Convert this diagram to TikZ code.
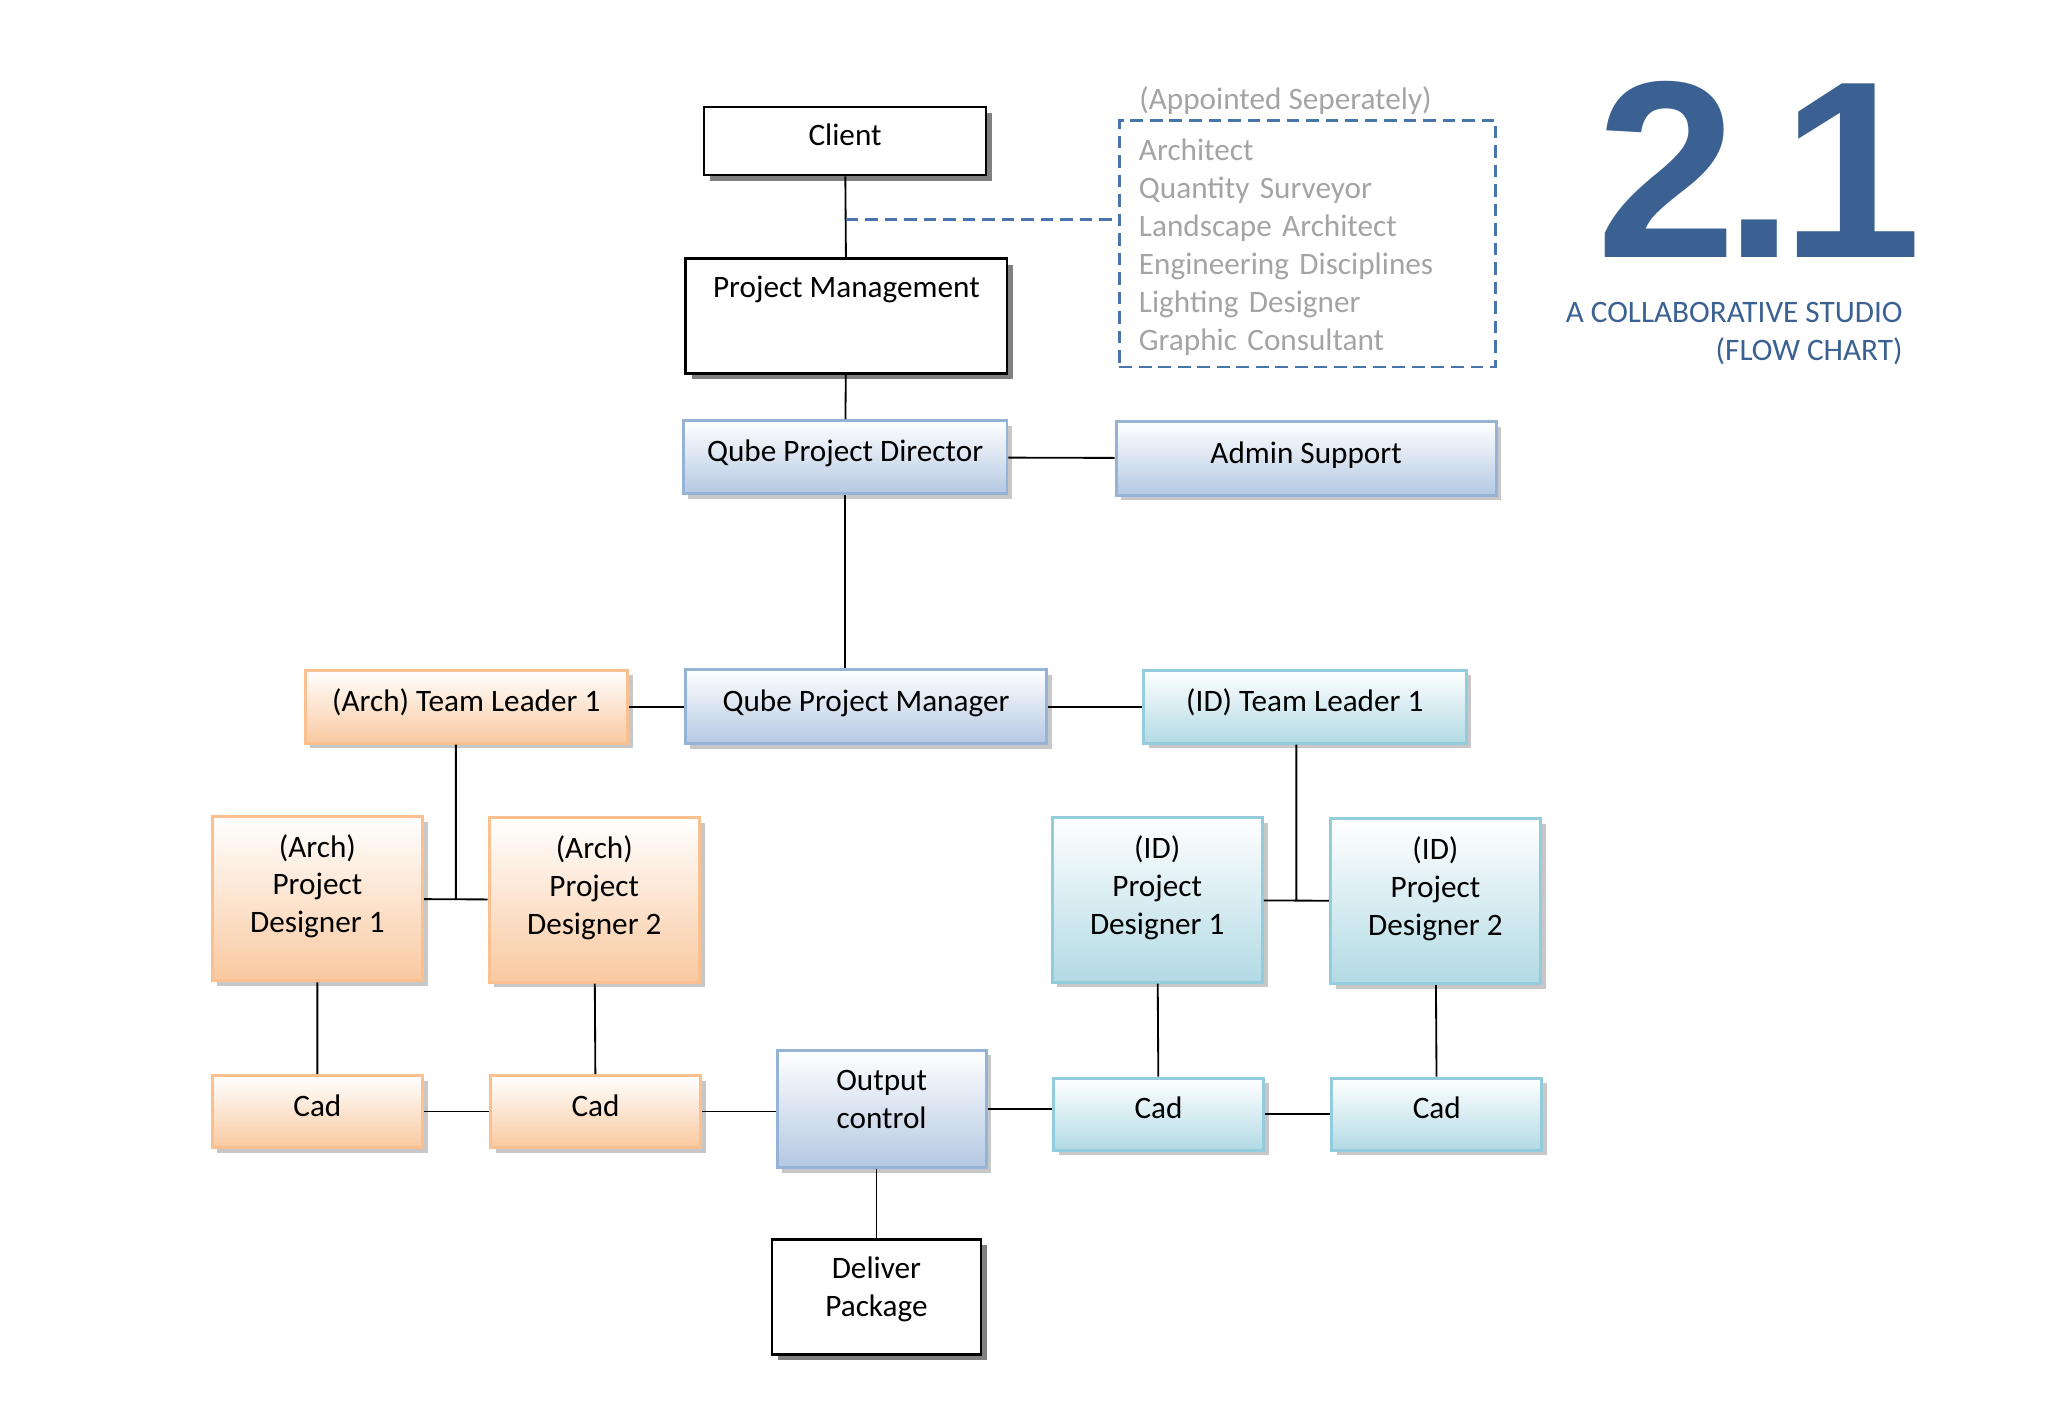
\documentclass[tikz,border=0pt]{standalone}
\usepackage{fontspec}
\setmainfont{Carlito}
\newfontfamily\numfont{Liberation Sans}[LetterSpace=-5]
\usetikzlibrary{shadows,calc}
\definecolor{qubeline}{HTML}{95B3D7}
\definecolor{qubebot}{HTML}{B4C8E2}
\definecolor{archline}{HTML}{FAC090}
\definecolor{archbot}{HTML}{F9C9A0}
\definecolor{idline}{HTML}{93CDDD}
\definecolor{idbot}{HTML}{B2DAE4}
\definecolor{dashblue}{HTML}{4A74AC}
\definecolor{titleblue}{HTML}{3A6191}
\definecolor{listgray}{HTML}{A4A4A4}
\tikzset{
plainbox/.style={
	draw=black, line width=1.1pt, fill=white, align=center,
	drop shadow={shadow xshift=0.09cm, shadow yshift=-0.09cm, fill=black!50, opacity=1}},
tintbox/.style={
	line width=1.3pt, align=center, top color=white,
	drop shadow={shadow xshift=0.08cm, shadow yshift=-0.08cm, fill=black!22, opacity=1}},
qube/.style={tintbox, draw=qubeline, bottom color=qubebot},
arch/.style={tintbox, draw=archline, bottom color=archbot},
idbox/.style={tintbox, draw=idline, bottom color=idbot},
oneline/.style={inner ysep=0pt, text height=10pt, text depth=6pt},
twoline/.style={inner ysep=0pt, text height=20.2pt, text depth=3pt},
threeline/.style={inner ysep=0pt, text height=32.8pt, text depth=3pt},
designer/.style={threeline, minimum width=3.22cm, minimum height=2.52cm},
cadbox/.style={oneline, minimum width=3.22cm, minimum height=1.1cm},
leader/.style={oneline, minimum width=4.94cm, minimum height=1.12cm},
link/.style={line width=0.8pt},
apart/.style={draw=dashblue, line width=1.2pt, dash pattern=on 5.5pt off 3pt}
}
\newcommand{\grp}[1]{\textcolor{listgray}{#1}}

\begin{document}
\begin{tikzpicture}[x=0.02cm, y=-0.02cm, font=\fontsize{13.6}{16.5}\selectfont]
	\useasboundingbox (0,0) rectangle (1568,1086);
	% top of the chart
	\node[plainbox, oneline, minimum width=4.32cm, minimum height=1.04cm] (client) at (647,108) {Client};
	\node[plainbox, minimum width=4.92cm, inner ysep=0pt, text height=0.6cm, text depth=1.16cm] (pm) at (648,242) {Project Management};
	\node[qube, oneline, minimum width=4.96cm, minimum height=1.12cm] (qpd) at (647,350) {Qube Project Director};
	\node[qube, oneline, minimum width=5.82cm, minimum height=1.12cm] (admin) at (1000,351) {Admin Support};
	\node[apart, text width=5.16cm, inner xsep=0.3cm, minimum height=3.78cm, align=left, text=listgray] (apt) at (1001,186.5)
		{\raisebox{-1.5pt}[\height][\depth]{\parbox{5.16cm}{Architect\\Quantity Surveyor\\Landscape Architect\\Engineering Disciplines\\Lighting Designer\\Graphic Consultant}}};
	\node[anchor=base west, inner sep=0pt] (aptlabel) at (872,84) {\grp{(Appointed Seperately)}};
	% title
	\node[anchor=base west, inner sep=0pt, text depth=0pt, text=titleblue, font=\numfont\bfseries\fontsize{110}{110}\selectfont] (num) at (1222,197) {2.1};
	\node[anchor=north east, inner sep=0pt, align=right, text=titleblue] (sub) at (1457,231) {A COLLABORATIVE STUDIO\\(FLOW CHART)};
	% managers and team leaders
	\node[qube, oneline, minimum width=5.54cm, minimum height=1.14cm] (qpm) at (663,541) {Qube Project Manager};
	\node[arch, leader] (atl) at (357,541) {(Arch) Team Leader 1};
	\node[idbox, leader] (idtl) at (999,541) {(ID) Team Leader 1};
	% designers
	\node[arch, designer] (apd1) at (243,688) {(Arch)\\Project\\Designer 1};
	\node[arch, designer] (apd2) at (455,689) {(Arch)\\Project\\Designer 2};
	\node[idbox, designer] (idpd1) at (886,689) {(ID)\\Project\\Designer 1};
	\node[idbox, designer] (idpd2) at (1099,690) {(ID)\\Project\\Designer 2};
	% cad and output
	\node[arch, cadbox] (acad1) at (243,851) {Cad};
	\node[arch, cadbox] (acad2) at (456,851) {Cad};
	\node[idbox, cadbox] (idcad1) at (887,853) {Cad};
	\node[idbox, cadbox] (idcad2) at (1100,853) {Cad};
	\node[qube, twoline, minimum width=3.2cm, minimum height=1.8cm] (out) at (675,849) {Output\\control};
	\node[plainbox, twoline, minimum width=3.2cm, minimum height=1.76cm] (deliver) at (671,993) {Deliver\\Package};
	% connectors
	\coordinate (split) at ($(client.south)!.53!(pm.north)$);
	\draw[link] (client) -- (pm) (pm) -- (qpd) (qpd) -- (admin);
	\draw[apart] (split) -- (split -| apt.west);
	\draw[link] (qpd.south) -- (qpd.south |- qpm.north);
	\draw[link] (atl) -- (qpm) (qpm) -- (idtl);
	\coordinate (ajoin) at ($(apd1.east)!.5!(apd2.west)$);
	\coordinate (idjoin) at ($(idpd1.east)!.5!(idpd2.west)$);
	\draw[link] (apd1) -- (apd2) (ajoin) -- (ajoin |- atl.south);
	\draw[link] (idpd1) -- (idpd2) (idjoin) -- (idjoin |- idtl.south);
	\draw[link] (apd1) -- (acad1) (apd2) -- (acad2) (idpd1) -- (idcad1) (idpd2) -- (idcad2);
	\draw[link] (acad1.east) -- (acad2.west |- acad1.east) (acad2.east) -- (out.west |- acad2.east)
		(out.east) -- (idcad1.west |- out.east) (idcad1.east) -- (idcad2.west |- idcad1.east);
	\draw[link] (deliver.north) -- (deliver.north |- out.south);
\end{tikzpicture}
\end{document}
